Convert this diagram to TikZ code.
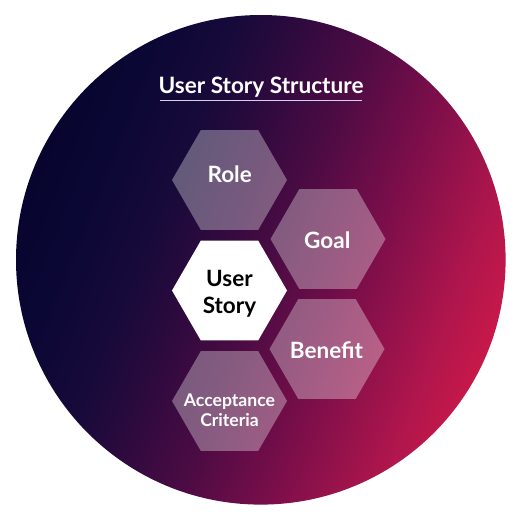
\documentclass[tikz,border=0pt]{standalone}
\usepackage{fontspec}
\setmainfont{Lato}
\usetikzlibrary{shapes.geometric}
\definecolor{c0}{HTML}{07052E}
\definecolor{c1}{HTML}{0A0734}
\definecolor{c2}{HTML}{180A3A}
\definecolor{c3}{HTML}{2C0A3E}
\definecolor{c4}{HTML}{4A0B43}
\definecolor{c5}{HTML}{7A0E4A}
\definecolor{c6}{HTML}{B0164C}
\definecolor{c7}{HTML}{C8184A}
\definecolor{ulcol}{HTML}{D8D0E8}
\pgfdeclarehorizontalshading{bgshade}{100bp}{color(0bp)=(c0); color(25bp)=(c0); color(31bp)=(c1); color(39bp)=(c2); color(44bp)=(c3); color(51bp)=(c4); color(60bp)=(c5); color(70bp)=(c6); color(75bp)=(c7); color(100bp)=(c7)}
\tikzset{
  hexbox/.style={regular polygon, regular polygon sides=6, minimum size=115pt, inner sep=0pt, outer sep=0pt, draw=none},
  softhex/.style={hexbox, fill=white, fill opacity=0.33},
  mainhex/.style={hexbox, fill=white},
  hexlabel/.style={font=\bfseries\fontsize{22.5}{27}\selectfont, text=white, align=center, inner sep=0pt},
}
\begin{document}
\begin{tikzpicture}[x=1pt,y=1pt]
\useasboundingbox (0,0) rectangle (522,-522);
\shade[shading=bgshade, shading angle=-22] (260.8,-259.8) circle[radius=244.8];
\node[font=\bfseries\fontsize{22.6}{26}\selectfont, text=white, anchor=base, inner sep=0pt] (title) at (261,-93) {User Story Structure};
\coordinate (ulL) at (160,-100.7);
\coordinate (ulR) at (362,-100.7);
\draw[ulcol, line width=1.3pt] (ulL) -- (ulR);
\node[softhex] (role) at (229.5,-180) {};
\node[softhex] (goal) at (328,-239) {};
\node[mainhex] (us) at (229.5,-290.5) {};
\node[softhex] (benefit) at (327,-349) {};
\node[softhex] (acc) at (229.5,-401) {};
\node[hexlabel, anchor=base] (roleT) at (229.7,-182.7) {Role};
\node[hexlabel, anchor=base] (goalT) at (327.3,-248) {Goal};
\node[hexlabel, anchor=base] (benefitT) at (326.5,-358.3) {Benefit};
\node[hexlabel, anchor=base, text=black] (usT) at (229.5,-313) {User\\Story};
\node[hexlabel, anchor=base, font=\bfseries\fontsize{17.6}{20}\selectfont] (accT) at (229.5,-426) {Acceptance\\Criteria};
\end{tikzpicture}
\end{document}
